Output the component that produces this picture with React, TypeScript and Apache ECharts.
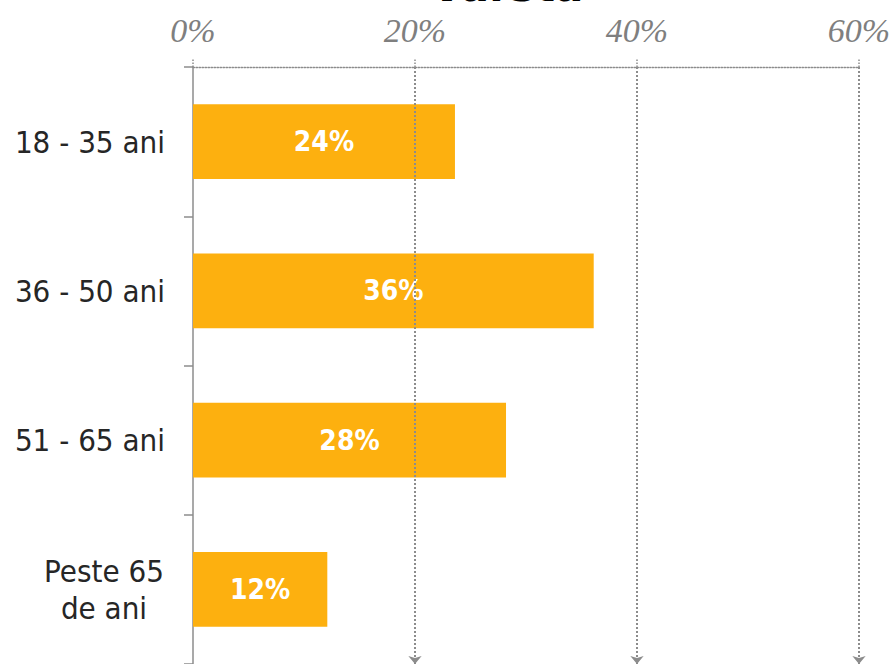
import React, { useEffect, useRef } from "react";
import * as echarts from "echarts";

const categories = ["18 - 35 ani", "36 - 50 ani", "51 - 65 ani", "Peste 65\nde ani"];
const values = [23.6, 36.1, 28.2, 12.1];
const gridLineValues = [20, 40, 60];
const titleText = "Vârsta";

export default function App() {
  const ref = useRef<HTMLDivElement>(null);
  useEffect(() => {
    if (!ref.current) return;
    const chart = echarts.init(ref.current, undefined, { renderer: "svg" });
    chart.setOption({
      animation: false,
      backgroundColor: "#ffffff",
      title: {
        text: titleText,
        left: 502,
        textAlign: "center",
        top: -40,
        textStyle: { fontSize: 42, fontWeight: "bold", fontFamily: "DejaVu Sans", color: "#000000" },
      },
      grid: { left: 193, right: 35, top: 67, bottom: -3, containLabel: false },
      xAxis: {
        type: "value",
        position: "top",
        min: 0,
        max: 60,
        interval: 20,
        axisLine: { show: true, lineStyle: { color: "#8c8c8c", width: 1.3, type: [1.5, 1.5] } },
        axisTick: { show: true, length: 9, lineStyle: { color: "#8c8c8c", width: 1.5, type: "dotted" } },
        splitLine: { show: false },
        axisLabel: {
          formatter: "{value}%",
          fontFamily: "Liberation Serif",
          fontStyle: "italic",
          fontSize: 34,
          color: "#7f7f7f",
          margin: 20,
        },
      },
      yAxis: {
        type: "category",
        inverse: true,
        data: categories,
        axisLine: { show: true, lineStyle: { color: "#8c8c8c", width: 1.5 } },
        axisTick: { show: true, length: 9, lineStyle: { color: "#8c8c8c", width: 1.5 } },
        axisLabel: {
          margin: 28,
          fontSize: 31,
          fontFamily: "DejaVu Sans Condensed",
          color: "#262626",
          lineHeight: 37,
          formatter: (v: string) =>
            v.indexOf("\n") >= 0
              ? v.split("\n").map((s) => "{c|" + s + "}").join("\n")
              : v,
          rich: {
            c: { width: 122, align: "center", fontSize: 31, fontFamily: "DejaVu Sans Condensed", color: "#262626", lineHeight: 37 },
          },
        },
      },
      series: [
        {
          type: "bar",
          data: values,
          barWidth: "50%",
          itemStyle: { color: "#FDB00F" },
          label: {
            show: true,
            position: "inside",
            formatter: (p: any) => Math.round(p.value) + "%",
            color: "#ffffff",
            fontWeight: "bold",
            fontFamily: "DejaVu Sans Condensed",
            fontSize: 28,
          },
          markLine: {
            silent: true,
            symbol: ["none", "arrow"],
            symbolSize: [10, 8],
            label: { show: false },
            lineStyle: { color: "#8c8c8c", width: 2, type: [2, 2] },
            data: gridLineValues.map((v) => ({ xAxis: v })),
          },
        },
      ],
    });
    return () => chart.dispose();
  }, []);
  return <div ref={ref} style={{ position: "fixed", left: 0, top: 0, width: 894, height: 664 }} />;
}
